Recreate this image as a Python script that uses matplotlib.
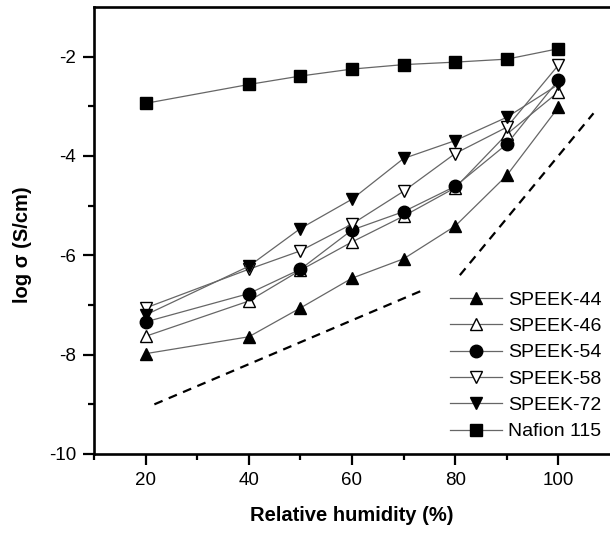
import matplotlib
matplotlib.use("Agg")
import matplotlib.pyplot as plt

plt.rcParams['font.family'] = ['Liberation Sans', 'DejaVu Sans']
plt.rcParams['axes.unicode_minus'] = False

rh = [20, 40, 50, 60, 70, 80, 90, 100]

speek44 = [-7.98, -7.64, -7.06, -6.46, -6.07, -5.41, -4.39, -3.02]
speek46 = [-7.63, -6.92, -6.30, -5.73, -5.21, -4.64, -3.56, -2.71]
speek54 = [-7.34, -6.77, -6.28, -5.49, -5.12, -4.61, -3.76, -2.47]
speek58 = [-7.06, -6.28, -5.91, -5.37, -4.71, -3.95, -3.42, -2.17]
speek72 = [-7.20, -6.22, -5.46, -4.87, -4.05, -3.69, -3.22, -2.56]
nafion = [-2.94, -2.56, -2.39, -2.25, -2.16, -2.11, -2.05, -1.84]

# slope guide lines (dashed)
guide1_x = [21.7, 74.0]
guide1_y = [-9.0, -6.69]
guide2_x = [80.9, 106.8]
guide2_y = [-6.40, -3.14]

fig = plt.figure(figsize=(6.10, 5.39), dpi=100)
ax = fig.add_axes([94 / 610, 85 / 539, 516 / 610, 447 / 539])

lc = '#666666'
common = dict(color=lc, lw=0.9, markersize=9, markeredgecolor='black', markeredgewidth=1.0)
ax.plot(rh, speek44, marker='^', markerfacecolor='black', label='SPEEK-44', **common)
ax.plot(rh, speek46, marker='^', markerfacecolor='white', label='SPEEK-46', **common)
ax.plot(rh, speek54, marker='o', markerfacecolor='black', label='SPEEK-54', **common)
ax.plot(rh, speek58, marker='v', markerfacecolor='white', label='SPEEK-58', **common)
ax.plot(rh, speek72, marker='v', markerfacecolor='black', label='SPEEK-72', **common)
common['markersize'] = 8.5
ax.plot(rh, nafion, marker='s', markerfacecolor='black', label='Nafion 115', **common)

ax.plot(guide1_x, guide1_y, color='black', lw=1.6, linestyle=(0, (4, 3)))
ax.plot(guide2_x, guide2_y, color='black', lw=1.6, linestyle=(0, (4, 3)))

ax.set_xlim(10, 110)
ax.set_ylim(-10, -1)
ax.set_xticks([20, 40, 60, 80, 100])
ax.set_xticks([10, 30, 50, 70, 90], minor=True)
ax.set_yticks([-10, -8, -6, -4, -2])
ax.set_yticks([-9, -7, -5, -3], minor=True)

for s in ['left', 'bottom', 'top']:
    ax.spines[s].set_linewidth(1.9)
ax.spines['right'].set_visible(False)
ax.tick_params(which='major', direction='out', length=8, width=1.6, labelsize=13.5, pad=5)
ax.tick_params(which='minor', direction='out', length=4, width=1.6)
ax.tick_params(top=False, right=False)

ax.set_xlabel('Relative humidity (%)', fontsize=14.5, fontweight='bold', labelpad=12)
ax.set_ylabel('log σ (S/cm)', fontsize=14.5, fontweight='bold')
ax.yaxis.set_label_coords(-0.12, 0.468)

leg = ax.legend(loc='upper left', bbox_to_anchor=(450 / 610, (539 - 291) / 539),
                bbox_transform=fig.transFigure, frameon=False, fontsize=14,
                borderpad=0, borderaxespad=0, labelspacing=0.45,
                handlelength=2.67, handletextpad=0.31)

fig.savefig('out.png', dpi=100)
